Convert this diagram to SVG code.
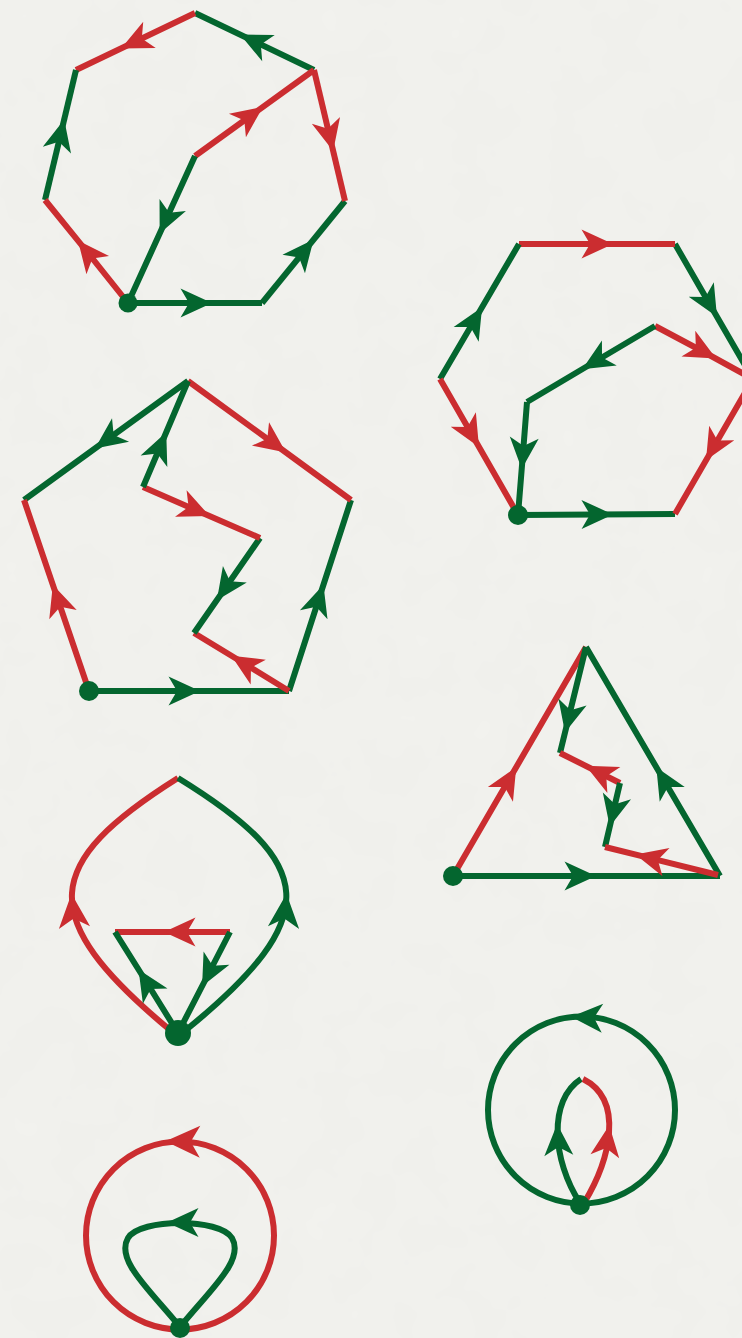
<svg xmlns="http://www.w3.org/2000/svg" xmlns:xlink="http://www.w3.org/1999/xlink" width="742" height="1338" viewBox="0 0 742 1338">
<style>
.g{fill:none;stroke:#04662f;stroke-width:6;marker-mid:url(#mg)}
.r{fill:none;stroke:#cb2d30;stroke-width:6;marker-mid:url(#mr)}
.gc{fill:none;stroke:#04662f;stroke-width:6}
.rc{fill:none;stroke:#cb2d30;stroke-width:6}
.hg{fill:#04662f}
.hr{fill:#cb2d30}
.dot{fill:#04662f}
</style>
<defs>
<path id="ah" d="M16,0 L-15.5,-14.5 L-7,0 L-15.5,14.5 Z"/>
<marker id="mg" viewBox="-20 -20 40 40" markerWidth="40" markerHeight="40" refX="0" refY="0" orient="auto" markerUnits="userSpaceOnUse"><use href="#ah" fill="#04662f"/></marker>
<marker id="mr" viewBox="-20 -20 40 40" markerWidth="40" markerHeight="40" refX="0" refY="0" orient="auto" markerUnits="userSpaceOnUse"><use href="#ah" fill="#cb2d30"/></marker>
<filter id="paper" x="0" y="0" width="100%" height="100%">
<feTurbulence type="fractalNoise" baseFrequency="0.02" numOctaves="3" seed="4"/>
<feColorMatrix type="matrix" values="0 0 0 0 0.5  0 0 0 0 0.5  0 0 0 0 0.48  0 0 0 0.05 0"/>
</filter>
</defs>
<rect width="742" height="1338" fill="#f2f2ee"/>
<rect width="742" height="1338" filter="url(#paper)"/>

<g id="connectors">
<g id="fig1">
<polyline class="g" points="128,303 196,303 262,303"/>
<polyline class="g" points="262,303 303.5,252 345,201"/>
<polyline class="r" points="314,70 329.5,135.5 345,201"/>
<polyline class="g" points="314,70 254.5,41.5 195,13"/>
<polyline class="r" points="195,13 135.5,41.5 76,70"/>
<polyline class="g" points="45,200 60.5,135 76,70"/>
<polyline class="r" points="128,303 88,253 45,200"/>
<polyline class="r" points="195,156 250,116.3 314,70"/>
<polyline class="g" points="195,156 166.3,219 128,303"/>
</g>
<g id="fig2">
<polyline class="g" points="518,515 597,514.5 675,514"/>
<polyline class="r" points="753,379 714,446.5 675,514"/>
<polyline class="g" points="675,244 709,303 753,379"/>
<polyline class="r" points="519,244 597,244 675,244"/>
<polyline class="g" points="440,379 474,321 519,244"/>
<polyline class="r" points="440,379 471,433 518,515"/>
<polyline class="r" points="655,326 702,351 753,379"/>
<polyline class="g" points="655,326 596,361 527,402"/>
<polyline class="g" points="527,402 523,453 518,515"/>
</g>
<g id="fig3">
<polyline class="g" points="89,691 184,691 289,691"/>
<polyline class="g" points="289,691 318.5,600 351,500"/>
<polyline class="r" points="188,381 273,443 351,500"/>
<polyline class="g" points="188,381 108,439 24,500"/>
<polyline class="r" points="89,691 58,600 24,500"/>
<polyline class="r" points="289,691 245,664 194,633"/>
<polyline class="g" points="260,538 226,587 194,633"/>
<polyline class="r" points="143,487 195,509.7 260,538"/>
<polyline class="g" points="143,487 160,447 188,381"/>
</g>
<g id="fig4">
<polyline class="g" points="453,876 580,876 720,876"/>
<polyline class="g" points="720,876 664.4,781 586,647"/>
<polyline class="r" points="453,876 508.2,781 586,647"/>
<polyline class="g" points="586,647 568.8,717 560,753"/>
<polyline class="r" points="620,783 600,773 560,753"/>
<polyline class="g" points="620,783 613.4,811 605,847"/>
<polyline class="r" points="718,875 651,858.4 605,847"/>
</g>
<g id="fig5">
<path class="rc" d="M170,1030 C33,916 43,863 178,778"/>
<path class="gc" d="M186,1030 C326,916 316,863 178,778"/>
<use href="#ah" class="hr" transform="translate(73,911) rotate(-95) scale(1.08)"/>
<use href="#ah" class="hg" transform="translate(285,911) rotate(-85) scale(1.08)"/>
<polyline class="r" points="230,932 180,932 115,932"/>
<polyline class="g" points="178,1033 147,983 115,932"/>
<polyline class="g" points="230,932 209.4,972 178,1033"/>
</g>
<g id="fig6">
<circle class="gc" cx="581.5" cy="1110" r="93.5"/>
<use href="#ah" class="hg" transform="translate(587,1017.5) rotate(183)"/>
<path class="gc" d="M580,1203 C552,1160 548,1100 581,1079"/>
<path class="rc" d="M584,1203 C610,1160 625,1100 583,1079"/>
<use href="#ah" class="hg" transform="translate(558,1140) rotate(-93)"/>
<use href="#ah" class="hr" transform="translate(607,1141) rotate(-82)"/>
</g>
<g id="fig7">
<circle class="rc" cx="180" cy="1235.5" r="94"/>
<use href="#ah" class="hr" transform="translate(183,1141.5) rotate(181) scale(1.1)"/>
<path class="gc" d="M180,1327 C150,1290 115,1260 128,1238 C140,1218 220,1218 232,1238 C245,1260 210,1290 180,1327"/>
<use href="#ah" class="hg" transform="translate(183,1222.5) rotate(180)"/>
</g>
</g>

<g id="nodes">
<circle id="n1" class="dot" cx="128" cy="303" r="9.5"/>
<circle id="n2" class="dot" cx="518" cy="515" r="10"/>
<circle id="n3" class="dot" cx="89" cy="691" r="10"/>
<circle id="n4" class="dot" cx="453" cy="876" r="10"/>
<circle id="n5" class="dot" cx="178" cy="1033" r="13"/>
<circle id="n6" class="dot" cx="580" cy="1205" r="10"/>
<circle id="n7" class="dot" cx="180" cy="1328" r="10"/>
</g>
</svg>
